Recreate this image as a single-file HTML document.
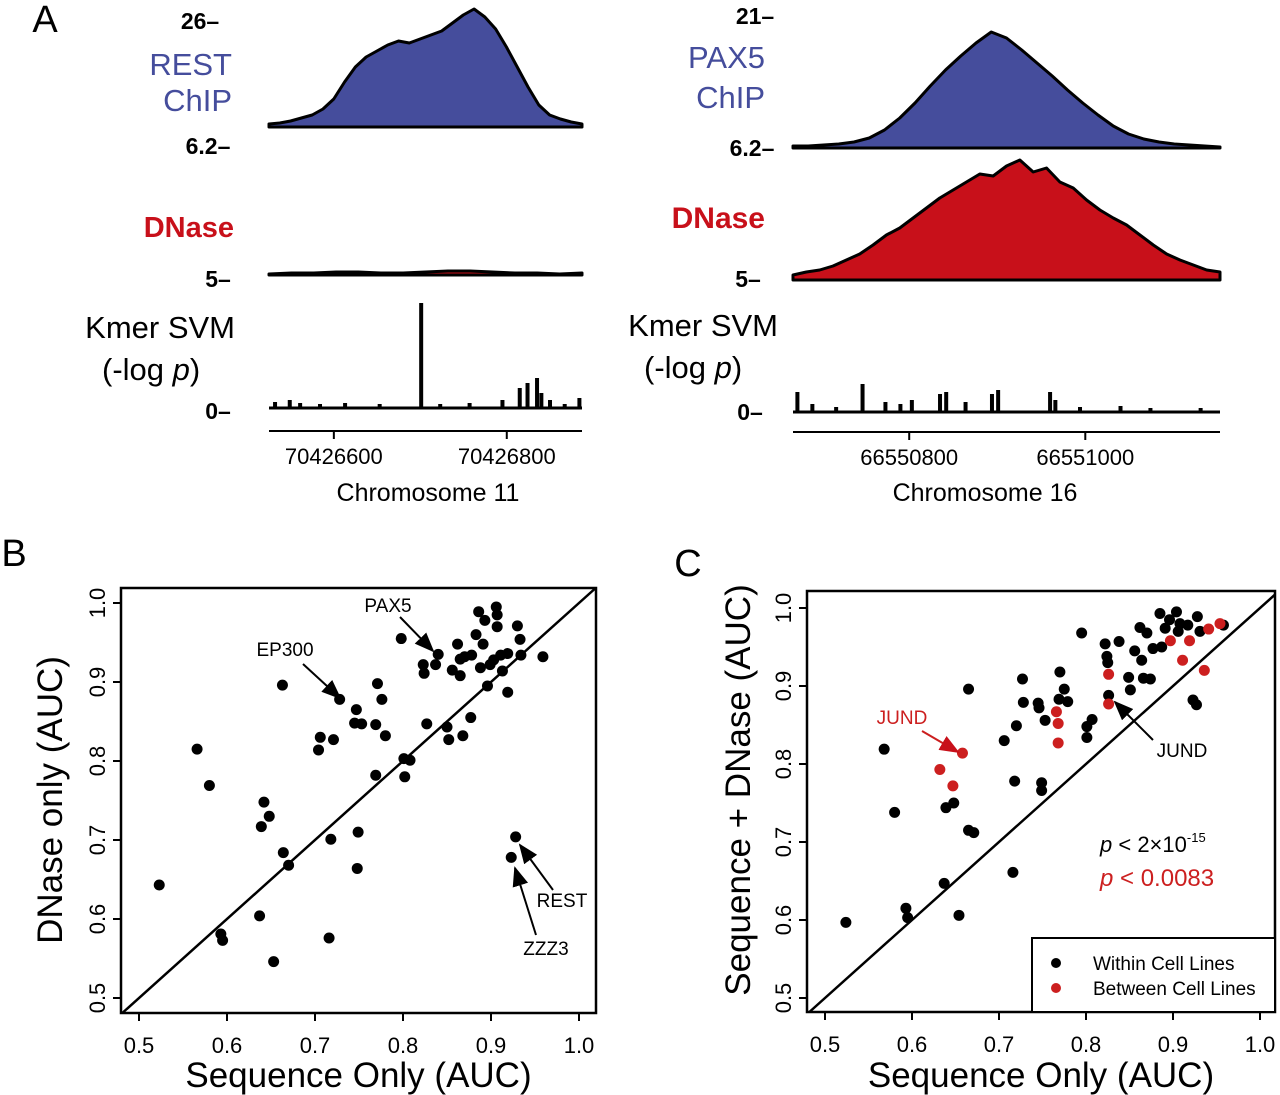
<!DOCTYPE html>
<html><head><meta charset="utf-8"><style>
html,body{margin:0;padding:0;background:#fff}
svg{display:block}
text{font-family:"Liberation Sans",sans-serif}
</style></head><body>
<svg id="fig" width="1280" height="1095" viewBox="0 0 1280 1095"></svg>
<script>
// ---------- Panel A data ----------
const restChipHeights = [3,4,6,9,12,18,28,45,60,70,76,82,86,84,88,92,96,104,112,118,110,98,80,60,40,22,12,8,5,3];
const pax5ChipHeights = [2,2,3,4,6,10,18,30,45,62,78,92,105,116,110,98,85,72,58,45,33,22,14,9,6,4,3,2,1];
const leftDnaseHeights = [1,2,2,3,3,2,2,3,4,4,3,2,2,1,2];
const rightDnaseHeights = [5,8,10,14,20,26,35,45,52,62,72,82,90,98,106,104,114,120,108,112,98,92,80,70,62,55,45,35,26,20,15,10,8];
const leftKmerPos = [532,549,561,584,613,653,701,723,757,795,815,824,835,840,850,867,884];
const leftKmerVal = [6,8,5,4,5,4,105,4,5,8,20,25,30,15,8,4,10];
const rightKmerPos = [673,690,717,747,773,790,803,835,842,864,894,901,960,966,994,1040,1074,1131];
const rightKmerVal = [20,8,5,28,10,8,12,18,20,10,18,22,20,12,5,6,4,4];
const leftTicks = [70426600,70426800];
const rightTicks = [66550800,66551000];
const leftOrigin = 70426000, rightOrigin = 66550000;

// ---------- Panel B data ----------
const bSeq = [0.523,0.566,0.580,0.593,0.595,0.637,0.639,0.642,0.648,0.653,0.663,0.664,0.670,0.704,0.706,0.716,0.718,0.721,0.728,0.747,0.745,0.753,0.749,0.748,0.769,0.769,0.771,0.776,0.780,0.798,0.801,0.808,0.802,0.823,0.824,0.827,0.837,0.840,0.850,0.852,0.856,0.862,0.865,0.865,0.868,0.870,0.878,0.877,0.883,0.886,0.888,0.891,0.893,0.896,0.899,0.903,0.906,0.907,0.907,0.911,0.913,0.919,0.919,0.923,0.928,0.930,0.933,0.934,0.959];
const bDnase = [0.643,0.815,0.769,0.581,0.573,0.604,0.717,0.748,0.730,0.546,0.896,0.684,0.668,0.814,0.830,0.576,0.701,0.827,0.878,0.865,0.848,0.847,0.710,0.664,0.846,0.782,0.898,0.878,0.832,0.955,0.803,0.801,0.780,0.922,0.911,0.847,0.922,0.935,0.843,0.827,0.915,0.948,0.908,0.929,0.832,0.932,0.934,0.855,0.960,0.989,0.918,0.948,0.978,0.895,0.922,0.928,0.995,0.985,0.970,0.934,0.914,0.936,0.887,0.678,0.704,0.971,0.954,0.934,0.932];
const axisTicks = [0.5,0.6,0.7,0.8,0.9,1.0];
const tickLabels = ["0.5","0.6","0.7","0.8","0.9","1.0"];

// ---------- Panel C data ----------
const cWithinSeq = [0.524,0.580,0.568,0.593,0.595,0.637,0.639,0.648,0.654,0.665,0.665,0.671,0.706,0.716,0.718,0.720,0.727,0.728,0.745,0.746,0.749,0.749,0.753,0.770,0.769,0.775,0.779,0.795,0.801,0.801,0.807,0.822,0.824,0.825,0.826,0.838,0.849,0.851,0.856,0.862,0.864,0.866,0.874,0.870,0.877,0.885,0.887,0.891,0.896,0.904,0.906,0.908,0.917,0.928,0.931,0.923,0.927,0.958];
const cWithinBoth = [0.597,0.738,0.819,0.615,0.603,0.647,0.744,0.750,0.606,0.896,0.715,0.712,0.830,0.661,0.778,0.849,0.909,0.879,0.878,0.872,0.776,0.766,0.856,0.918,0.883,0.896,0.880,0.968,0.848,0.834,0.857,0.954,0.938,0.930,0.888,0.957,0.911,0.895,0.945,0.975,0.933,0.910,0.909,0.968,0.948,0.993,0.950,0.974,0.985,0.995,0.970,0.980,0.978,0.989,0.970,0.882,0.876,0.978];
const cBetweenSeq = [0.632,0.647,0.658,0.766,0.768,0.768,0.826,0.826,0.897,0.911,0.919,0.936,0.941,0.954];
const cBetweenBoth = [0.793,0.772,0.814,0.867,0.852,0.827,0.915,0.877,0.958,0.933,0.958,0.920,0.973,0.980];

const NS="http://www.w3.org/2000/svg";
const svg=document.getElementById('fig');
function el(tag,attrs,parent){const e=document.createElementNS(NS,tag);for(const k in attrs)e.setAttribute(k,attrs[k]);(parent||svg).appendChild(e);return e;}
function txt(s,x,y,size,attrs,parent){const t=el('text',Object.assign({x:x,y:y,'font-size':size},attrs||{}),parent);t.textContent=s;return t;}

// ---------------- Panel A ----------------
const BLUE="#454d9c", RED="#c8101a";
function areaTrack(heights,x0,x1,base,fill,name){
  const n=heights.length;const xs=i=>x0+(x1-x0)*i/(n-1);
  let d=`M${x0},${base}`;heights.forEach((h,i)=>{d+=` L${xs(i)},${base-h}`});d+=` L${x1},${base} Z`;
  const p=el('path',{d:d,fill:fill,stroke:'#000','stroke-width':3,'stroke-linejoin':'round'});
  
  
}
function kmerTrack(pos,val,g0,g1,x0,x1,base,name){
  const g=el('g',{});
  
  
  const sx=v=>x0+(x1-x0)*(v-g0)/(g1-g0);
  el('line',{x1:x0,y1:base,x2:x1,y2:base,stroke:'#000','stroke-width':3},g);
  pos.forEach((p,i)=>{const r=el('rect',{x:sx(p)-2,y:base-val[i],width:4,height:val[i],fill:'#000'},g);
    
    });
  return sx;
}
function genomeAxis(ticks,origin,sx,x0,x1,y,name){
  const g=el('g',{});
  
  
  el('line',{x1:x0,y1:y,x2:x1,y2:y,stroke:'#000','stroke-width':2},g);
  ticks.forEach(t=>{const x=sx(t-origin);el('line',{x1:x,y1:y,x2:x,y2:y+8,stroke:'#000','stroke-width':2},g);
    const l=txt(String(t),x,y+33,22,{'text-anchor':'middle'},g);
    
    });
}
txt("A",45,32,38,{'text-anchor':'middle'});
// left column
const La=269,Lb=582;
txt("26–",200,29,23,{'text-anchor':'middle','font-weight':'bold'});
txt("REST",232,75,31,{'text-anchor':'end',fill:BLUE});
txt("ChIP",232,111,31,{'text-anchor':'end',fill:BLUE});
areaTrack(restChipHeights,La,Lb,127,BLUE,'rest-chip-track');
txt("6.2–",208,154,23,{'text-anchor':'middle','font-weight':'bold'});
txt("DNase",234,237,29,{'text-anchor':'end',fill:RED,'font-weight':'bold'});
areaTrack(leftDnaseHeights,La,Lb,275,RED,'left-dnase-track');
txt("5–",218,287,23,{'text-anchor':'middle','font-weight':'bold'});
txt("Kmer SVM",235,338,31,{'text-anchor':'end'});
const kp1=txt("(-log ",102,380,31,{});const ps=el('tspan',{'font-style':'italic'},kp1);ps.textContent="p";const pe=el('tspan',{},kp1);pe.textContent=")";
const sxL=kmerTrack(leftKmerPos,leftKmerVal,525,887,La,Lb,408,'left-kmer-track');
txt("0–",218,419,23,{'text-anchor':'middle','font-weight':'bold'});
genomeAxis(leftTicks,leftOrigin,sxL,La,Lb,431,'left-genome-axis');
txt("Chromosome 11",428,501,25,{'text-anchor':'middle'});
// right column
const Ra=793,Rb=1220;
txt("21–",755,24,23,{'text-anchor':'middle','font-weight':'bold'});
txt("PAX5",765,68,31,{'text-anchor':'end',fill:BLUE});
txt("ChIP",765,108,31,{'text-anchor':'end',fill:BLUE});
areaTrack(pax5ChipHeights,Ra,Rb,148,BLUE,'pax5-chip-track');
txt("6.2–",752,156,23,{'text-anchor':'middle','font-weight':'bold'});
txt("DNase",765,228,30,{'text-anchor':'end',fill:RED,'font-weight':'bold'});
areaTrack(rightDnaseHeights,Ra,Rb,280,RED,'right-dnase-track');
txt("5–",748,287,23,{'text-anchor':'middle','font-weight':'bold'});
txt("Kmer SVM",778,336,31,{'text-anchor':'end'});
const kp2=txt("(-log ",644,378,31,{});const ps2=el('tspan',{'font-style':'italic'},kp2);ps2.textContent="p";const pe2=el('tspan',{},kp2);pe2.textContent=")";
const sxR=kmerTrack(rightKmerPos,rightKmerVal,668,1153,Ra,Rb,412,'right-kmer-track');
txt("0–",750,420,23,{'text-anchor':'middle','font-weight':'bold'});
genomeAxis(rightTicks,rightOrigin,sxR,Ra,Rb,432,'right-genome-axis');
txt("Chromosome 16",985,501,25,{'text-anchor':'middle'});

// ---------------- Scatter panels ----------------
el('defs',{}).innerHTML='<marker id="ah" markerWidth="10" markerHeight="10" refX="9" refY="5" orient="auto"><path d="M0,1 L10,5 L0,9 Z" fill="#000"/></marker><marker id="ahr" markerWidth="10" markerHeight="10" refX="9" refY="5" orient="auto"><path d="M0,1 L10,5 L0,9 Z" fill="#c8101a"/></marker>';

function scatterPanel(o){
  const g=el('g',{});
  
  
  const sx=v=>o.x05+(v-0.5)*o.xs, sy=v=>o.y10+(1.0-v)*o.ys;
  el('rect',{x:o.L,y:o.T,width:o.R-o.L,height:o.B-o.T,fill:'none',stroke:'#000','stroke-width':2.5},g);
  const d0=Math.max(0.5+(o.L-o.x05)/o.xs, 1.0-(o.B-o.y10)/o.ys), d1=Math.min(0.5+(o.R-o.x05)/o.xs,1.0-(o.T-o.y10)/o.ys);
  const dl=el('line',{x1:sx(d0),y1:sy(d0),x2:sx(d1),y2:sy(d1),stroke:'#000','stroke-width':2.5},g);
  
  
  axisTicks.forEach((t,i)=>{
    const x=sx(t);el('line',{x1:x,y1:o.B,x2:x,y2:o.B+8,stroke:'#000','stroke-width':2},g);
    const xl=txt(tickLabels[i],x,o.B+40,22,{'text-anchor':'middle'},g);
    
    
    const y=sy(t);el('line',{x1:o.L,y1:y,x2:o.L-8,y2:y,stroke:'#000','stroke-width':2},g);
    const yl=txt(tickLabels[i],0,0,22,{'text-anchor':'middle',transform:`translate(${o.L-16},${y}) rotate(-90)`},g);
    
    
  });
  const xt=txt("Sequence Only (AUC)",(o.L+o.R)/2,1087,35,{'text-anchor':'middle'},g);
  
  
  const yt=txt(o.ytitle,0,0,35,{'text-anchor':'middle',transform:`translate(${o.ytx},${o.yty}) rotate(-90)`},g);
  
  
  o.series.forEach(s=>{s.x.forEach((v,i)=>{
    const c=el('circle',{cx:sx(v),cy:sy(s.y[i]),r:5.5,fill:s.color},g);
    
    
  });});
  return g;
}
txt("B",14,566,38,{'text-anchor':'middle'});
txt("C",688,576,38,{'text-anchor':'middle'});
scatterPanel({name:'panel-b-scatter',L:121,R:596,T:588,B:1013,x05:139,xs:880,y10:603,ys:790,
  ytitle:"DNase only (AUC)",ytx:62,yty:800,series:[{x:bSeq,y:bDnase,color:'#000',pname:'tf-point'}]});
scatterPanel({name:'panel-c-scatter',L:807,R:1275,T:591,B:1012,x05:825,xs:870,y10:608,ys:780,
  ytitle:"Sequence + DNase (AUC)",ytx:750,yty:790,series:[{x:cWithinSeq,y:cWithinBoth,color:'#000',pname:'within-cell-line-point'},{x:cBetweenSeq,y:cBetweenBoth,color:'#cc1f1f',pname:'between-cell-line-point'}]});
function ann(label,lx,ly,ax1,ay1,ax2,ay2,color,name){
  const t=txt(label,lx,ly,19,{'text-anchor':'middle',fill:color});
  
  
  el('line',{x1:ax1,y1:ay1,x2:ax2,y2:ay2,stroke:color,'stroke-width':2,'marker-end':color==='#000'?'url(#ah)':'url(#ahr)'});
}
ann("PAX5",388,612,400,617,433,651,'#000','pax5-annotation');
ann("EP300",285,656,303,664,340,698,'#000','ep300-annotation');
ann("REST",562,907,553,890,520,845,'#000','rest-annotation');
ann("ZZZ3",546,955,536,935,515,868,'#000','zzz3-annotation');
ann("JUND",902,724,922,731,958,752,'#cc1f1f','jund-red-annotation');
ann("JUND",1182,757,1153,740,1115,702,'#000','jund-black-annotation');
const p1=txt("",1100,852,22,{});

p1.innerHTML='<tspan font-style="italic">p</tspan> &lt; 2×10<tspan font-size="13" dy="-10">-15</tspan>';
const p2=txt("",1100,886,24,{fill:'#cc1f1f'});

p2.innerHTML='<tspan font-style="italic">p</tspan> &lt; 0.0083';
const lg=el('g',{});


el('rect',{x:1032,y:938,width:243,height:74,fill:'#fff',stroke:'#000','stroke-width':2},lg);
el('circle',{cx:1056,cy:963,r:5,fill:'#000'},lg);
txt("Within Cell Lines",1093,970,19,{},lg);
el('circle',{cx:1056,cy:988,r:5,fill:'#cc1f1f'},lg);
txt("Between Cell Lines",1093,995,19,{},lg);
</script>
</body></html>
